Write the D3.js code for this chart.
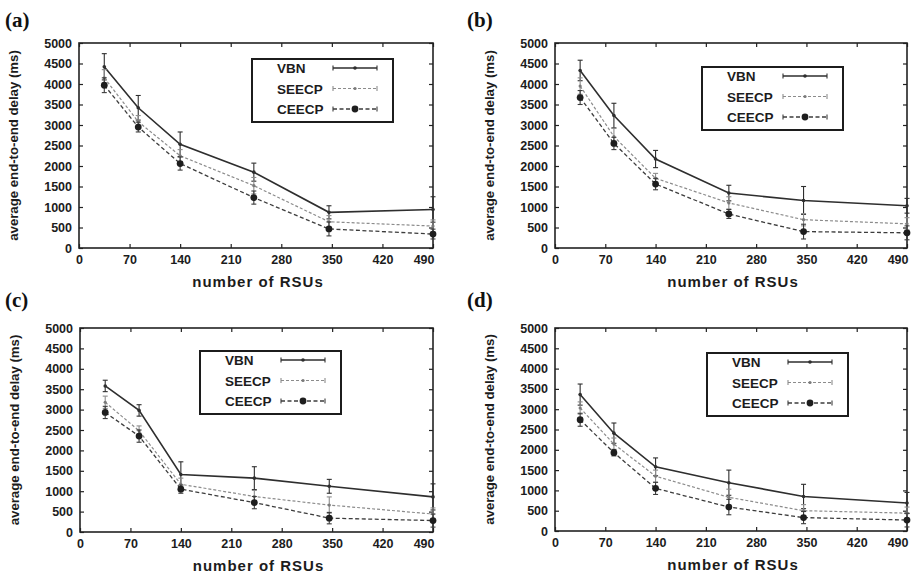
<!DOCTYPE html>
<html>
<head>
<meta charset="utf-8">
<script src="https://cdn.jsdelivr.net/npm/d3@7"></script>
<style>
  html, body { margin: 0; padding: 0; background: #fff; }
  svg { display: block; }
</style>
</head>
<body>
<svg id="chart" width="913" height="574"></svg>
<script>
// ---------------- data ----------------
const seriesNames = ["VBN", "SEECP", "CEECP"];
const rsuCounts = [35, 82, 140, 242, 346, 490];
const xTickValues = [0, 70, 140, 210, 280, 350, 420, 490];
const yTickValues = [0, 500, 1000, 1500, 2000, 2500, 3000, 3500, 4000, 4500, 5000];
const panelLabels = ["(a)", "(b)", "(c)", "(d)"];
const xAxisTitle = "number of RSUs";
const yAxisTitle = "average end-to-end delay (ms)";

// panel (a)
const vbnA = [4420, 3420, 2530, 1850, 870, 940];
const vbnErrA = [320, 300, 300, 220, 160, 310];
const seecpA = [4150, 3080, 2250, 1520, 640, 535];
const seecpErrA = [200, 150, 150, 200, 150, 150];
const ceecpA = [3970, 2950, 2060, 1230, 465, 340];
const ceecpErrA = [180, 120, 160, 160, 170, 120];
// panel (b)
const vbnB = [4330, 3230, 2170, 1340, 1160, 1030];
const vbnErrB = [250, 300, 210, 190, 340, 180];
const seecpB = [3950, 2720, 1700, 1100, 690, 590];
const seecpErrB = [200, 200, 120, 150, 150, 150];
const ceecpB = [3670, 2550, 1560, 830, 400, 370];
const ceecpErrB = [170, 150, 140, 110, 180, 170];
// panel (c)
const vbnC = [3580, 2980, 1410, 1320, 1120, 860];
const vbnErrC = [140, 140, 310, 280, 170, 320];
const seecpC = [3180, 2480, 1170, 870, 660, 440];
const seecpErrC = [150, 120, 150, 150, 200, 150];
const ceecpC = [2930, 2350, 1050, 720, 340, 280];
const ceecpErrC = [150, 150, 100, 150, 140, 160];
// panel (d)
const vbnD = [3360, 2410, 1580, 1190, 850, 690];
const vbnErrD = [260, 250, 220, 310, 300, 260];
const seecpD = [3030, 2140, 1350, 830, 500, 440];
const seecpErrD = [150, 150, 150, 200, 150, 150];
const ceecpD = [2740, 1930, 1050, 590, 330, 270];
const ceecpErrD = [160, 80, 150, 190, 150, 170];

const panelValues = [
  [[vbnA, vbnErrA], [seecpA, seecpErrA], [ceecpA, ceecpErrA]],
  [[vbnB, vbnErrB], [seecpB, seecpErrB], [ceecpB, ceecpErrB]],
  [[vbnC, vbnErrC], [seecpC, seecpErrC], [ceecpC, ceecpErrC]],
  [[vbnD, vbnErrD], [seecpD, seecpErrD], [ceecpD, ceecpErrD]]
];

// ---------------- layout / style ----------------
const panelBoxes = [
  {left: 79, right: 433, top: 43, bottom: 248, lx: 252, ly: 59, tx: 5, ty: 27},
  {left: 555, right: 907, top: 43, bottom: 248, lx: 702, ly: 67, tx: 467, ty: 27},
  {left: 80, right: 433, top: 328, bottom: 532, lx: 200, ly: 351, tx: 5, ty: 307},
  {left: 555, right: 907, top: 328, bottom: 531, lx: 707, ly: 353, tx: 467, ty: 307}
];
const seriesStyles = [
  {stroke: "#2e2e2e", width: 1.6, dash: null, r: 1.8, fill: "#2e2e2e"},
  {stroke: "#8c8c8c", width: 1.2, dash: "3,2", r: 1.6, fill: "#7a7a7a"},
  {stroke: "#3c3c3c", width: 1.3, dash: "4,2.5", r: 3.4, fill: "#1e1e1e"}
];
const tickFont = "'Liberation Sans', Arial, sans-serif";
const fmt = d3.format("d");

const svg = d3.select("#chart");
svg.append("rect").attr("width", 913).attr("height", 574).attr("fill", "#fff");

panelBoxes.forEach((box, pi) => {
  const g = svg.append("g");
  const x = d3.scaleLinear().domain([0, 490]).range([box.left, box.right]);
  const y = d3.scaleLinear().domain([0, 5000]).range([box.bottom, box.top]);

  // axes
  const styleAxis = sel => {
    sel.select(".domain").remove();
    sel.selectAll(".tick line").attr("stroke", "#222").attr("stroke-width", 1.2);
    sel.selectAll(".tick text")
      .attr("font-family", tickFont).attr("font-weight", "bold")
      .attr("font-size", 12.5).attr("fill", "#1c1c1c");
  };
  g.append("g").attr("transform", `translate(${box.left},0)`)
    .call(d3.axisLeft(y).tickValues(yTickValues).tickSize(-4).tickPadding(7).tickFormat(fmt))
    .call(styleAxis);
  g.append("g").attr("transform", `translate(${box.right},0)`)
    .call(d3.axisRight(y).tickValues(yTickValues).tickSize(-4).tickFormat(""))
    .call(styleAxis);
  const xb = g.append("g").attr("transform", `translate(0,${box.bottom})`)
    .call(d3.axisBottom(x).tickValues(xTickValues).tickSize(-4).tickPadding(7).tickFormat(fmt))
    .call(styleAxis);
  // keep the last x label inside the frame, as in the reference
  xb.selectAll(".tick").filter(d => d === xTickValues[xTickValues.length - 1])
    .select("text").attr("text-anchor", "end").attr("x", 1);
  g.append("g").attr("transform", `translate(0,${box.top})`)
    .call(d3.axisTop(x).tickValues(xTickValues).tickSize(-4).tickFormat(""))
    .call(styleAxis);

  // frame
  g.append("rect")
    .attr("x", box.left).attr("y", box.top)
    .attr("width", box.right - box.left).attr("height", box.bottom - box.top)
    .attr("fill", "none").attr("stroke", "#222").attr("stroke-width", 1.6);

  // axis titles
  g.append("text")
    .attr("x", (box.left + box.right) / 2 + 2).attr("y", box.bottom + 39)
    .attr("text-anchor", "middle")
    .attr("font-family", tickFont).attr("font-weight", "bold")
    .attr("font-size", 15).attr("letter-spacing", 1).attr("fill", "#1c1c1c")
    .text(xAxisTitle);
  g.append("text")
    .attr("transform", `translate(${box.left - 61},${(box.top + box.bottom) / 2}) rotate(-90)`)
    .attr("text-anchor", "middle")
    .attr("font-family", tickFont).attr("font-weight", "bold")
    .attr("font-size", 13.2).attr("fill", "#1c1c1c")
    .text(yAxisTitle);

  // panel label
  g.append("text")
    .attr("x", box.tx).attr("y", box.ty)
    .attr("font-family", "'Liberation Serif', 'Times New Roman', serif")
    .attr("font-weight", "bold").attr("font-size", 21).attr("fill", "#111")
    .text(panelLabels[pi]);

  // series
  panelValues[pi].forEach(([vals, errs], si) => {
    const st = seriesStyles[si];
    const pts = rsuCounts.map((c, i) => ({x: c, v: vals[i], e: errs[i]}));
    const sg = g.append("g");
    sg.append("path")
      .datum(pts)
      .attr("fill", "none").attr("stroke", st.stroke).attr("stroke-width", st.width)
      .attr("stroke-dasharray", st.dash)
      .attr("d", d3.line().x(d => x(d.x)).y(d => y(d.v)));
    // error bars
    pts.forEach(d => {
      const cx = x(d.x);
      sg.append("line").attr("x1", cx).attr("x2", cx)
        .attr("y1", y(d.v - d.e)).attr("y2", y(d.v + d.e))
        .attr("stroke", st.stroke).attr("stroke-width", 1.1);
      [d.v - d.e, d.v + d.e].forEach(ev => {
        sg.append("line").attr("x1", cx - 2.5).attr("x2", cx + 2.5)
          .attr("y1", y(ev)).attr("y2", y(ev))
          .attr("stroke", st.stroke).attr("stroke-width", 1.1);
      });
    });
    sg.selectAll("circle").data(pts).join("circle")
      .attr("cx", d => x(d.x)).attr("cy", d => y(d.v))
      .attr("r", st.r).attr("fill", st.fill);
  });

  // legend
  const lw = 141, lh = 63;
  const lg = g.append("g").attr("transform", `translate(${box.lx},${box.ly})`);
  lg.append("rect").attr("width", lw).attr("height", lh)
    .attr("fill", "#fff").attr("stroke", "#1c1c1c").attr("stroke-width", 2);
  seriesNames.forEach((name, si) => {
    const st = seriesStyles[si];
    const ry = 9 + si * 20.5;
    lg.append("text").attr("x", 25).attr("y", ry + 5)
      .attr("font-family", tickFont).attr("font-weight", "bold")
      .attr("font-size", 13.5).attr("fill", "#1c1c1c").text(name);
    const x0 = 81, x1 = 125;
    lg.append("line").attr("x1", x0).attr("x2", x1).attr("y1", ry).attr("y2", ry)
      .attr("stroke", st.stroke).attr("stroke-width", st.width)
      .attr("stroke-dasharray", st.dash);
    [x0, x1].forEach(ex => lg.append("line").attr("x1", ex).attr("x2", ex)
      .attr("y1", ry - 2.5).attr("y2", ry + 2.5)
      .attr("stroke", st.stroke).attr("stroke-width", 1.1));
    lg.append("circle").attr("cx", (x0 + x1) / 2).attr("cy", ry)
      .attr("r", st.r).attr("fill", st.fill);
  });
});
</script>
</body>
</html>
